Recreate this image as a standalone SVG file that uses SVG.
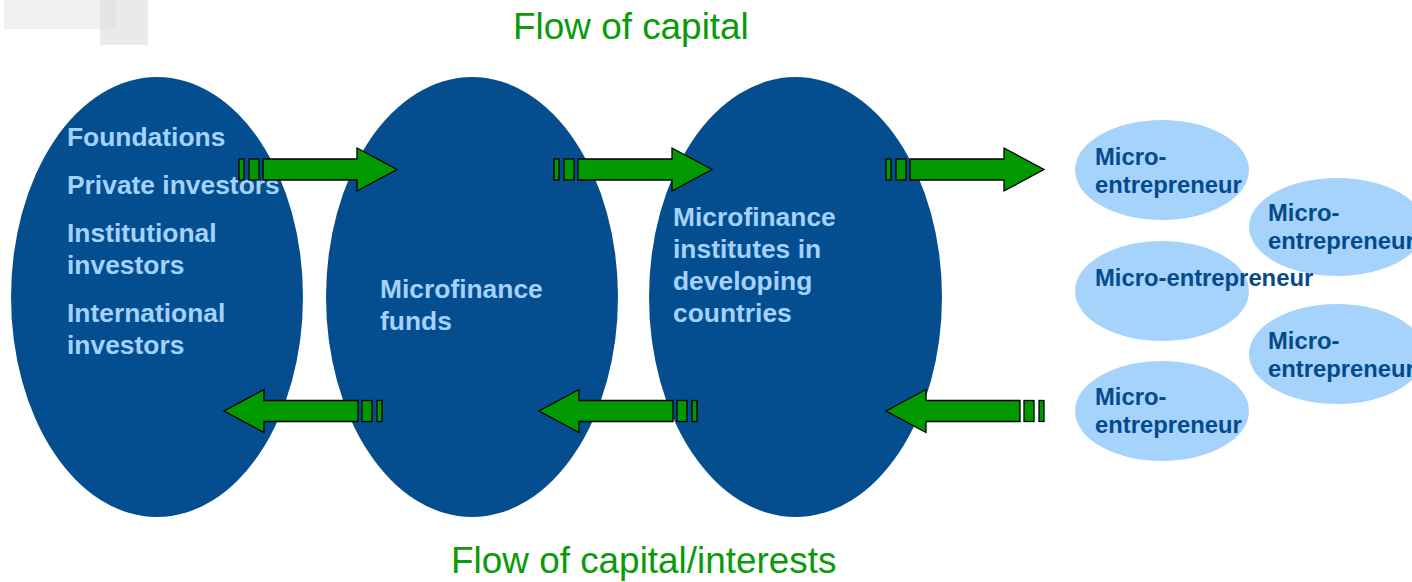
<svg xmlns="http://www.w3.org/2000/svg" xmlns:xlink="http://www.w3.org/1999/xlink" width="1412" height="582" viewBox="0 0 1412 582">
<style>
text{font-family:"Liberation Sans",Arial,Helvetica,sans-serif}
.big{fill:#044d8f}
.bt{fill:#a3d2fd;font-weight:bold;font-size:26.4px}
.sm{fill:#a5d3fc}
.st{fill:#044a8c;font-weight:bold;font-size:23.8px}
.title{fill:#0a9a0a;font-size:36.9px}
.arr{fill:#009900;stroke:#000;stroke-width:1.3;stroke-linejoin:miter}
</style>
<defs>
<g id="rarrow">
<rect class="arr" x="0" y="-10.5" width="5" height="21"/>
<rect class="arr" x="10" y="-10.5" width="10" height="21"/>
<path class="arr" d="M24,-10.5 H118 V-21.5 L158,0 L118,21.5 V10.5 H24 Z"/>
</g>
</defs>
<rect x="0" y="0" width="1412" height="582" fill="#fff"/>
<rect x="4" y="0" width="112" height="29" fill="#f1f1f1"/>
<rect x="100" y="0" width="48" height="45" fill="#e9eaea"/>
<rect x="100" y="0" width="16" height="29" fill="#e3e4e3"/>

<text class="title" x="513" y="39">Flow of capital</text>
<text class="title" x="451" y="573">Flow of capital/interests</text>

<g id="investors">
<ellipse class="big" cx="157" cy="297" rx="146" ry="220"/>
<text class="bt" x="67" y="146">Foundations</text>
<text class="bt" x="67" y="194">Private investors</text>
<text class="bt" x="67" y="242">Institutional</text>
<text class="bt" x="67" y="274">investors</text>
<text class="bt" x="67" y="322">International</text>
<text class="bt" x="67" y="354">investors</text>
</g>
<g id="funds">
<ellipse class="big" cx="472" cy="297" rx="146" ry="220"/>
<text class="bt" x="380" y="298">Microfinance</text>
<text class="bt" x="380" y="330">funds</text>
</g>
<g id="institutes">
<ellipse class="big" cx="795.5" cy="297" rx="146.5" ry="220"/>
<text class="bt" x="673" y="226">Microfinance</text>
<text class="bt" x="673" y="258">institutes in</text>
<text class="bt" x="673" y="290">developing</text>
<text class="bt" x="673" y="322">countries</text>
</g>
<g id="me1">
<ellipse class="sm" cx="1162" cy="170" rx="87" ry="50"/>
<text class="st" x="1095" y="165">Micro-</text>
<text class="st" x="1095" y="193">entrepreneur</text>
</g>
<g id="me2">
<ellipse class="sm" cx="1337" cy="227" rx="88" ry="49"/>
<text class="st" x="1268" y="221">Micro-</text>
<text class="st" x="1268" y="249">entrepreneur</text>
</g>
<g id="me3">
<ellipse class="sm" cx="1162" cy="291" rx="87" ry="50"/>
<text class="st" x="1095" y="286">Micro-entrepreneur</text>
</g>
<g id="me4">
<ellipse class="sm" cx="1337" cy="354" rx="88" ry="50"/>
<text class="st" x="1268" y="349">Micro-</text>
<text class="st" x="1268" y="377">entrepreneur</text>
</g>
<g id="me5">
<ellipse class="sm" cx="1162" cy="411" rx="87" ry="50"/>
<text class="st" x="1095" y="405">Micro-</text>
<text class="st" x="1095" y="433">entrepreneur</text>
</g>

<g id="connectors">
<use xlink:href="#rarrow" href="#rarrow" transform="translate(239,169.5)"/>
<use xlink:href="#rarrow" href="#rarrow" transform="translate(554,169.5)"/>
<use xlink:href="#rarrow" href="#rarrow" transform="translate(886,169.5)"/>
<use xlink:href="#rarrow" href="#rarrow" transform="translate(382,411) scale(-1,1)"/>
<use xlink:href="#rarrow" href="#rarrow" transform="translate(697,411) scale(-1,1)"/>
<use xlink:href="#rarrow" href="#rarrow" transform="translate(1044,411) scale(-1,1)"/>
</g>
</svg>
